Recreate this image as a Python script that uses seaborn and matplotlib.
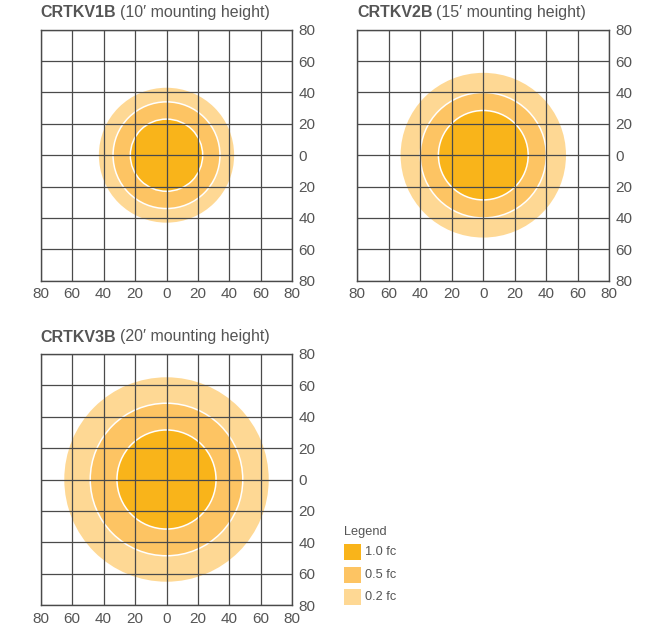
import matplotlib
matplotlib.use("Agg")
import matplotlib.pyplot as plt
from matplotlib.patches import Circle, Rectangle
import seaborn as sns

sns.set_theme(style="white")
plt.rcParams['font.family'] = ['Liberation Sans', 'DejaVu Sans']

# ---- data ----
models = ["CRTKV1B", "CRTKV2B", "CRTKV3B"]
heights = ["(10\u2032 mounting height)", "(15\u2032 mounting height)", "(20\u2032 mounting height)"]
levels = ["1.0 fc", "0.5 fc", "0.2 fc"]
radius_10fc = [23, 28.5, 31.5]
radius_05fc = [34, 40, 48.5]
radius_02fc = [43, 52.5, 65]
tick_values = [-80, -60, -40, -20, 0, 20, 40, 60, 80]
tick_labels = ["80", "60", "40", "20", "0", "20", "40", "60", "80"]

colors = ["#F9B41A", "#FDC463", "#FED894"]
text_color = "#555555"
grid_color = "#4a4a4a"

W, H = 660, 633
fig = plt.figure(figsize=(W / 100, H / 100), dpi=100)

def ax_rect(x0, y0, x1, y1):
    return [x0 / W, 1 - y1 / H, (x1 - x0) / W, (y1 - y0) / H]

rects = [ax_rect(40.7, 29.7, 292.3, 280.7),
         ax_rect(357.3, 29.7, 609.3, 280.7),
         ax_rect(40.7, 353.7, 292.3, 605.3)]
title_pos = [(40, 12.5), (357, 12.5), (40, 337)]

renderer = fig.canvas.get_renderer()

for i in range(3):
    ax = fig.add_axes(rects[i])
    radii = [radius_02fc[i], radius_05fc[i], radius_10fc[i]]
    cols = [colors[2], colors[1], colors[0]]
    for j, (r, c) in enumerate(zip(radii, cols)):
        ax.add_patch(Circle((0, 0), r, facecolor=c, edgecolor="none", zorder=1))
        if j > 0:
            ax.add_patch(Circle((0, 0), r, facecolor="none", edgecolor="white", lw=1.1, zorder=2))
    ax.set_xlim(-80, 80)
    ax.set_ylim(-80, 80)
    ax.set_xticks(tick_values)
    ax.set_yticks(tick_values)
    ax.set_xticklabels(tick_labels)
    ax.set_yticklabels(tick_labels)
    ax.yaxis.tick_right()
    ax.tick_params(length=0, labelsize=11, colors=text_color, pad=4.5)
    ax.grid(True, color=grid_color, lw=0.9)
    ax.set_axisbelow(False)
    for gl in ax.get_xgridlines() + ax.get_ygridlines():
        gl.set_zorder(3)
    for s in ax.spines.values():
        s.set_color(grid_color)
        s.set_linewidth(1.0)
        s.set_zorder(4)
    ax.set_facecolor("white")

    tx, ty = title_pos[i]
    t1 = fig.text(tx / W, 1 - ty / H, models[i], fontsize=11.5, fontweight="bold",
                  color=text_color, va="center", ha="left")
    bb = t1.get_window_extent(renderer=renderer)
    fig.text((bb.x1 + 4) / W, 1 - ty / H, heights[i], fontsize=11.5,
             color=text_color, va="center", ha="left")

# legend
fig.text(344 / W, 1 - 532 / H, "Legend", fontsize=9.2, color=text_color, va="center", ha="left")
ys = [552, 575, 597]
for lab, c, y in zip(levels, colors, ys):
    fig.patches.append(Rectangle((344 / W, 1 - (y + 8) / H), 17 / W, 16 / H,
                                 transform=fig.transFigure, facecolor=c, edgecolor="none"))
    fig.text(365 / W, 1 - y / H, lab, fontsize=9.2, color=text_color, va="center", ha="left")

fig.savefig("out.png", dpi=100, facecolor="white")
